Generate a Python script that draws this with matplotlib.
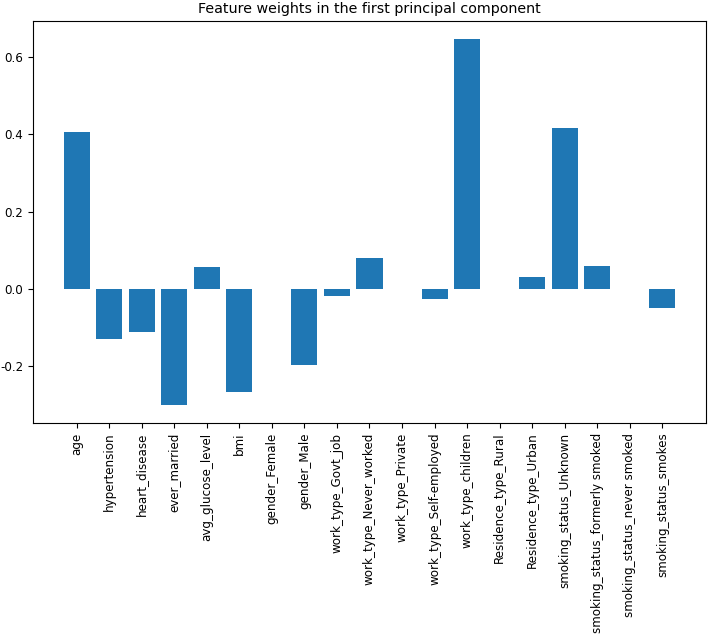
import matplotlib
matplotlib.use("Agg")
import matplotlib.pyplot as plt

plt.rcParams["axes.unicode_minus"] = False

features = ["age", "hypertension", "heart_disease", "ever_married", "avg_glucose_level",
            "bmi", "gender_Female", "gender_Male", "work_type_Govt_job",
            "work_type_Never_worked", "work_type_Private", "work_type_Self-employed",
            "work_type_children", "Residence_type_Rural", "Residence_type_Urban",
            "smoking_status_Unknown", "smoking_status_formerly smoked",
            "smoking_status_never smoked", "smoking_status_smokes"]
weights = [0.407, -0.129, -0.112, -0.300, 0.057, -0.266, 0.0, -0.198, -0.019,
           0.080, 0.0, -0.026, 0.646, 0.0, 0.030, 0.416, 0.059, 0.0, -0.050]

fig = plt.figure(figsize=(7.08, 6.36), dpi=100)
ax = fig.add_axes([33/708, 1-423/636, 673/708, 402/636])
ax.bar(features, weights, color="#1f77b4")
ax.set_xticks(range(len(features)))
ax.set_xticklabels(features, rotation=90, fontsize=8.6)
ax.tick_params(axis="y", labelsize=8.6)
ax.set_title("Feature weights in the first principal component", fontsize=10.3)
fig.savefig("out.png", dpi=100)
